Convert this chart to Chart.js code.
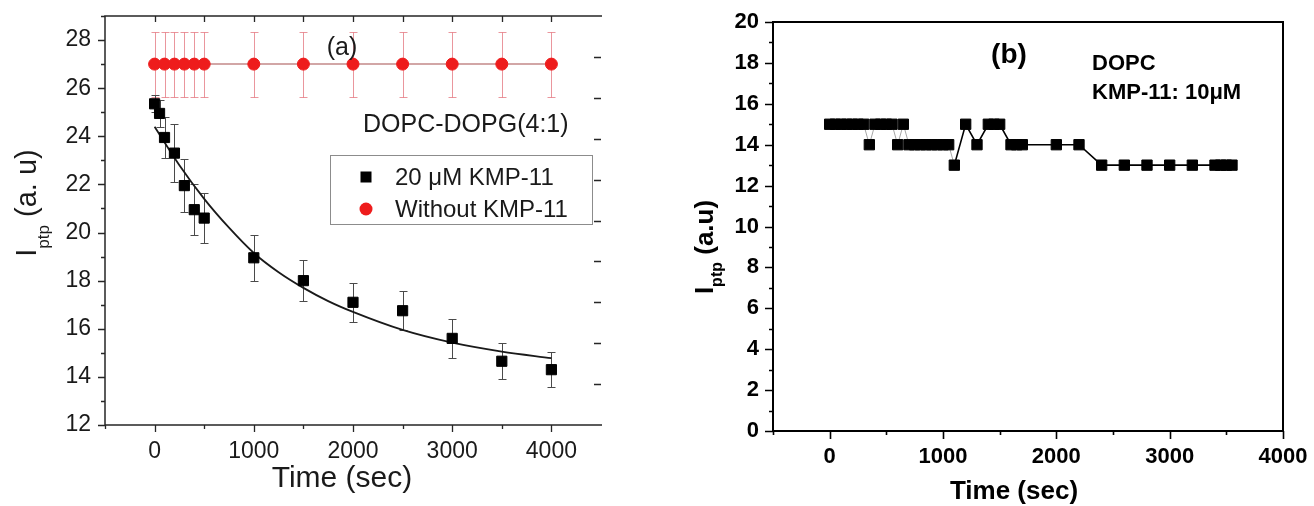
<!DOCTYPE html>
<html>
<head>
<meta charset="utf-8">
<script src="https://cdn.jsdelivr.net/npm/chart.js@4.4.1/dist/chart.umd.min.js"></script>
<style>
  html, body { margin: 0; padding: 0; background: #ffffff; }
  #wrap { position: relative; width: 1314px; height: 506px; overflow: hidden; background: #ffffff; }
  #chartA { position: absolute; left: 0; top: 0; }
  #chartB { position: absolute; left: 650px; top: 0; }
</style>
</head>
<body>
<div id="wrap">
  <canvas id="chartA" width="640" height="506"></canvas>
  <canvas id="chartB" width="664" height="506"></canvas>
</div>
<script>
// ---------- Panel (a): DOPC-DOPG(4:1) ----------
const timeKmp20 = [0, 50, 100, 200, 300, 400, 500, 1000, 1500, 2000, 2500, 3000, 3500, 4000];
const iptpKmp20 = [25.35, 24.95, 23.95, 23.3, 21.95, 20.95, 20.6, 18.95, 18.0, 17.1, 16.75, 15.6, 14.65, 14.3];
const errKmp20  = [0.35, 0.55, 0.85, 1.2, 1.1, 1.05, 1.05, 0.95, 0.85, 0.8, 0.8, 0.8, 0.75, 0.72];

const timeNoKmp = [0, 100, 200, 300, 400, 500, 1000, 1500, 2000, 2500, 3000, 3500, 4000];
const iptpNoKmp = [27, 27, 27, 27, 27, 27, 27, 27, 27, 27, 27, 27, 27];
const errNoKmp  = [1.35, 1.35, 1.35, 1.35, 1.35, 1.35, 1.35, 1.35, 1.35, 1.35, 1.35, 1.35, 1.35];

// exponential decay fit drawn through the 20 uM KMP-11 data
const fitTime = [0, 250, 500, 750, 1000, 1250, 1500, 1750, 2000, 2500, 3000, 3500, 4000];
const fitIptp = [24.4, 22.8, 21.4, 20.2, 19.15, 18.35, 17.7, 17.15, 16.7, 15.95, 15.42, 15.05, 14.78];

const xMajorA = [0, 1000, 2000, 3000, 4000];
const xMinorA = [-500, 500, 1500, 2500, 3500];
const xTopA   = [0, 500, 1000, 1500, 2000, 2500, 3000, 3500, 4000];
const yMajorA = [12, 14, 16, 18, 20, 22, 24, 26, 28];
const yMinorA = [13, 15, 17, 19, 21, 23, 25, 27, 29];
const yRightA = [13.7, 15.4, 17.1, 18.8, 20.5, 22.2, 23.9, 25.6, 27.3];

// ---------- Panel (b): DOPC, KMP-11 10 uM ----------
const timeB = [0, 50, 100, 150, 200, 250, 300, 350, 400, 450, 500, 550, 600, 650, 700,
               750, 800, 850, 900, 950, 1000, 1050, 1100, 1200, 1300, 1400, 1450, 1500,
               1600, 1650, 1700, 2000, 2200, 2400, 2600, 2800, 3000, 3200, 3400, 3450, 3500, 3550];
const iptpB = [15, 15, 15, 15, 15, 15, 15, 14, 15, 15, 15, 15, 14, 15, 14,
               14, 14, 14, 14, 14, 14, 14, 13, 15, 14, 15, 15, 15,
               14, 14, 14, 14, 14, 13, 13, 13, 13, 13, 13, 13, 13, 13];

const xMajorB = [0, 1000, 2000, 3000, 4000];
const xMinorB = [-500, 500, 1500, 2500, 3500];
const yMajorB = [0, 2, 4, 6, 8, 10, 12, 14, 16, 18, 20];
const yMinorB = [1, 3, 5, 7, 9, 11, 13, 15, 17, 19];

const SANS = "'Liberation Sans', Arial, sans-serif";

function pts(xs, ys) { return xs.map((x, i) => ({ x: x, y: ys[i] })); }

function tickMarks(chart, axisId, values, side, len) {
  const ctx = chart.ctx, a = chart.chartArea, s = chart.scales[axisId];
  ctx.beginPath();
  values.forEach(v => {
    const p = Math.round(s.getPixelForValue(v)) + 0.5;
    if (side === 'bottom') { ctx.moveTo(p, a.bottom); ctx.lineTo(p, a.bottom + len); }
    if (side === 'top')    { ctx.moveTo(p, a.top);    ctx.lineTo(p, a.top + len); }
    if (side === 'left')   { ctx.moveTo(a.left, p);   ctx.lineTo(a.left - len, p); }
    if (side === 'right')  { ctx.moveTo(a.right, p);  ctx.lineTo(a.right - len, p); }
  });
  ctx.stroke();
}

function errorBars(chart, xs, ys, errs, color, cap) {
  const ctx = chart.ctx, sx = chart.scales.x, sy = chart.scales.y;
  ctx.save();
  ctx.strokeStyle = color;
  ctx.lineWidth = 1;
  ctx.beginPath();
  xs.forEach((x, i) => {
    const px = Math.round(sx.getPixelForValue(x)) + 0.5;
    const t = Math.round(sy.getPixelForValue(ys[i] + errs[i])) + 0.5;
    const b = Math.round(sy.getPixelForValue(ys[i] - errs[i])) + 0.5;
    ctx.moveTo(px, t); ctx.lineTo(px, b);
    ctx.moveTo(px - cap, t); ctx.lineTo(px + cap, t);
    ctx.moveTo(px - cap, b); ctx.lineTo(px + cap, b);
  });
  ctx.stroke();
  ctx.restore();
}

// rotated axis title with a subscript part: main + sub + rest
function yTitle(ctx, cx, cy, main, sub, rest, size, subSize, subShift, weight, color) {
  const f = weight + ' ' + size + 'px ' + SANS;
  const fs = weight + ' ' + subSize + 'px ' + SANS;
  ctx.save();
  ctx.translate(cx, cy);
  ctx.rotate(-Math.PI / 2);
  ctx.fillStyle = color;
  ctx.textAlign = 'left';
  ctx.textBaseline = 'alphabetic';
  ctx.font = f; const w1 = ctx.measureText(main).width; const w3 = ctx.measureText(rest).width;
  ctx.font = fs; const w2 = ctx.measureText(sub).width;
  let x = -(w1 + w2 + w3) / 2;
  const base = size * 0.36;
  ctx.font = f;  ctx.fillText(main, x, base); x += w1;
  ctx.font = fs; ctx.fillText(sub, x, base + subShift); x += w2;
  ctx.font = f;  ctx.fillText(rest, x, base);
  ctx.restore();
}

function text(ctx, str, x, y, font, color, align) {
  ctx.save();
  ctx.font = font;
  ctx.fillStyle = color;
  ctx.textAlign = align || 'left';
  ctx.textBaseline = 'middle';
  ctx.fillText(str, x, y);
  ctx.restore();
}

const decorA = {
  id: 'decorA',
  beforeDatasetsDraw(chart) {
    errorBars(chart, timeNoKmp, iptpNoKmp, errNoKmp, 'rgba(225,105,115,0.7)', 4);
    errorBars(chart, timeKmp20, iptpKmp20, errKmp20, '#4a4a4a', 4);
  },
  afterDraw(chart) {
    const ctx = chart.ctx, a = chart.chartArea;
    const ink = '#262626';
    ctx.save();
    ctx.strokeStyle = ink;
    ctx.lineWidth = 1.5;
    // frame: left, top, bottom (right edge carries only its tick marks)
    ctx.beginPath();
    ctx.moveTo(a.right + 1, a.top); ctx.lineTo(a.left, a.top);
    ctx.lineTo(a.left, a.bottom); ctx.lineTo(a.right + 1, a.bottom);
    ctx.stroke();
    ctx.lineWidth = 1.3;
    tickMarks(chart, 'x', xMajorA, 'bottom', 7);
    tickMarks(chart, 'x', xMinorA, 'bottom', 4);
    tickMarks(chart, 'x', xTopA, 'top', 6);
    tickMarks(chart, 'y', yMajorA, 'left', 7);
    tickMarks(chart, 'y', yMinorA, 'left', 4);
    tickMarks(chart, 'y', yRightA, 'right', 7);
    ctx.restore();

    // legend box
    const lx = 330, ly = 155, lw = 262, lh = 69;
    ctx.save();
    ctx.strokeStyle = '#8c8c8c';
    ctx.lineWidth = 1;
    ctx.strokeRect(lx + 0.5, ly + 0.5, lw, lh);
    const ds = chart.data.datasets;
    ctx.fillStyle = ds[0].pointBackgroundColor;
    ctx.fillRect(366 - 5.5, 177 - 5.5, 11, 11);
    ctx.fillStyle = ds[1].pointBackgroundColor;
    ctx.beginPath(); ctx.arc(366, 209, 6.5, 0, Math.PI * 2); ctx.fill();
    ctx.restore();
    text(ctx, ds[0].label, 395, 178, '24px ' + SANS, '#1a1a1a');
    text(ctx, ds[1].label, 395, 210, '24px ' + SANS, '#1a1a1a');

    text(ctx, '(a)', 342, 48, '25px ' + SANS, '#1a1a1a', 'center');
    text(ctx, 'DOPC-DOPG(4:1)', 363, 125, '25px ' + SANS, '#1a1a1a');
    text(ctx, 'Time (sec)', 342, 479, '30px ' + SANS, '#1a1a1a', 'center');
    yTitle(ctx, 26, 203, 'I', 'ptp', ' (a. u)', 29, 17, 13, 'normal', '#1a1a1a');
  }
};

new Chart(document.getElementById('chartA'), {
  type: 'line',
  data: {
    datasets: [
      {
        label: '20 \u03bcM KMP-11',
        data: pts(timeKmp20, iptpKmp20),
        showLine: false,
        pointStyle: 'rect',
        pointRadius: 7.2,
        pointBorderWidth: 1,
        pointBackgroundColor: '#000000',
        pointBorderColor: '#000000',
        borderColor: '#000000',
        backgroundColor: '#000000'
      },
      {
        label: 'Without KMP-11',
        data: pts(timeNoKmp, iptpNoKmp),
        showLine: true,
        borderColor: 'rgba(185,115,115,0.85)',
        borderWidth: 1.5,
        pointStyle: 'circle',
        pointRadius: 6,
        pointBorderWidth: 1,
        pointBackgroundColor: '#ee1c1c',
        pointBorderColor: '#ee1c1c',
        backgroundColor: '#ee1c1c'
      },
      {
        label: 'fit',
        data: pts(fitTime, fitIptp),
        borderColor: '#1a1a1a',
        borderWidth: 1.8,
        pointRadius: 0,
        cubicInterpolationMode: 'monotone',
        fill: false
      }
    ]
  },
  options: {
    responsive: false,
    animation: false,
    devicePixelRatio: 1,
    layout: { padding: { left: 0, top: 16, right: 39, bottom: 0 } },
    plugins: { legend: { display: false }, tooltip: { enabled: false } },
    scales: {
      x: {
        type: 'linear', min: -500, max: 4500,
        afterBuildTicks: s => { s.ticks = xMajorA.map(v => ({ value: v })); },
        afterFit: s => { s.height = 506 - 425; s.paddingLeft = 0; s.paddingRight = 0; },
        grid: { display: false, drawTicks: false },
        border: { display: false },
        ticks: { padding: 13, color: '#1a1a1a', font: { family: SANS, size: 23 }, callback: v => String(v), maxRotation: 0 }
      },
      y: {
        type: 'linear', min: 12, max: 29,
        afterBuildTicks: s => { s.ticks = yMajorA.map(v => ({ value: v })); },
        afterFit: s => { s.width = 105; s.paddingTop = 0; s.paddingBottom = 0; },
        grid: { display: false, drawTicks: false },
        border: { display: false },
        ticks: { padding: 14, color: '#1a1a1a', font: { family: SANS, size: 23 }, callback: v => String(v) }
      }
    }
  },
  plugins: [decorA]
});

// short steep jumps between adjacent readings show only as faint strokes
function steepJump(c) {
  return Math.abs(c.p1.parsed.x - c.p0.parsed.x) <= 50 && c.p1.parsed.y !== c.p0.parsed.y;
}

const decorB = {
  id: 'decorB',
  afterDraw(chart) {
    const ctx = chart.ctx, a = chart.chartArea;
    ctx.save();
    ctx.strokeStyle = '#000000';
    ctx.lineWidth = 2;
    ctx.strokeRect(a.left, a.top, a.right - a.left, a.bottom - a.top);
    ctx.lineWidth = 1.6;
    tickMarks(chart, 'x', xMajorB, 'bottom', 8);
    tickMarks(chart, 'x', xMinorB, 'bottom', 4);
    tickMarks(chart, 'y', yMajorB, 'left', 8);
    tickMarks(chart, 'y', yMinorB, 'left', 4);
    ctx.restore();

    text(ctx, '(b)', 359, 55, 'bold 28px ' + SANS, '#000000', 'center');
    text(ctx, 'DOPC', 442, 64, 'bold 22px ' + SANS, '#000000');
    text(ctx, 'KMP-11: 10\u03bcM', 442, 93, 'bold 22px ' + SANS, '#000000');
    text(ctx, 'Time (sec)', 364, 492, 'bold 26px ' + SANS, '#000000', 'center');
    yTitle(ctx, 54, 247, 'I', 'ptp', ' (a.u)', 26, 16, 9, 'bold', '#000000');
  }
};

new Chart(document.getElementById('chartB'), {
  type: 'line',
  data: {
    datasets: [
      {
        label: 'DOPC, KMP-11: 10\u03bcM',
        data: pts(timeB, iptpB),
        borderColor: '#000000',
        borderWidth: 1.6,
        pointStyle: 'rect',
        pointRadius: 7.3,
        pointBorderWidth: 1,
        pointBackgroundColor: '#000000',
        pointBorderColor: '#000000',
        tension: 0,
        fill: false,
        segment: {
          borderColor: c => steepJump(c) ? 'rgba(0,0,0,0.35)' : undefined,
          borderWidth: c => steepJump(c) ? 1 : undefined
        }
      }
    ]
  },
  options: {
    responsive: false,
    animation: false,
    devicePixelRatio: 1,
    layout: { padding: { left: 0, top: 22, right: 31, bottom: 0 } },
    plugins: { legend: { display: false }, tooltip: { enabled: false } },
    scales: {
      x: {
        type: 'linear', min: -500, max: 4000,
        afterBuildTicks: s => { s.ticks = xMajorB.map(v => ({ value: v })); },
        afterFit: s => { s.height = 506 - 431; s.paddingLeft = 0; s.paddingRight = 0; },
        grid: { display: false, drawTicks: false },
        border: { display: false },
        ticks: { padding: 13, color: '#000000', font: { family: SANS, size: 22, weight: 'bold' }, callback: v => String(v), maxRotation: 0 }
      },
      y: {
        type: 'linear', min: 0, max: 20,
        afterBuildTicks: s => { s.ticks = yMajorB.map(v => ({ value: v })); },
        afterFit: s => { s.width = 123; s.paddingTop = 0; s.paddingBottom = 0; },
        grid: { display: false, drawTicks: false },
        border: { display: false },
        ticks: { padding: 14, color: '#000000', font: { family: SANS, size: 22, weight: 'bold' }, callback: v => String(v) }
      }
    }
  },
  plugins: [decorB]
});
</script>
</body>
</html>
